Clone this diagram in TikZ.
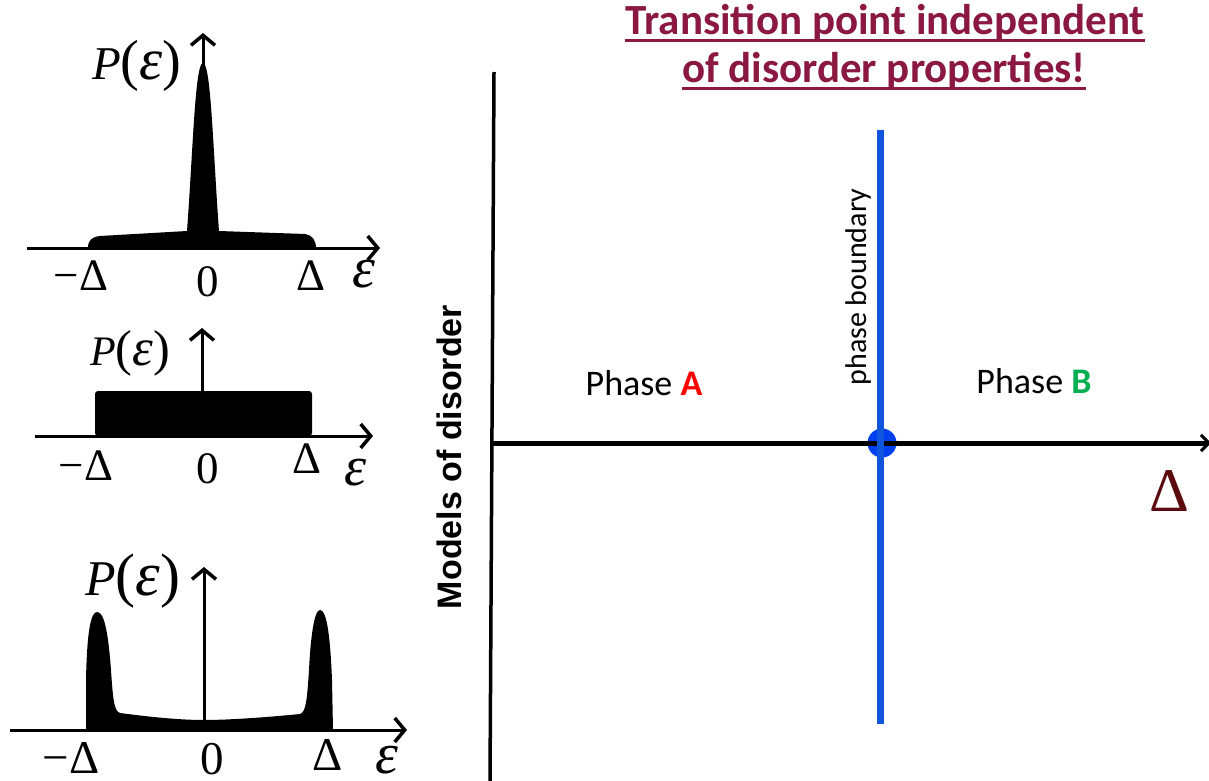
\documentclass[tikz,border=0pt]{standalone}
\usepackage{fontspec}
\setmainfont{Liberation Serif}
\newfontfamily\calib{Carlito}
\newfontfamily\arialf{Liberation Sans}
\usetikzlibrary{arrows.meta}
\definecolor{titlecol}{RGB}{139,24,64}
\definecolor{deltacol}{RGB}{92,10,15}
\definecolor{bline}{RGB}{17,85,221}
\definecolor{bdot}{RGB}{0,64,240}
\definecolor{phA}{RGB}{255,0,0}
\definecolor{phB}{RGB}{0,176,80}
\newcommand{\Peps}[1]{{\fontsize{#1}{#1}\selectfont\textit{P}}{\fontsize{1.2\dimexpr#1\relax}{1pt}\selectfont(}{\fontsize{1.25\dimexpr#1\relax}{1pt}\selectfont\textit{ε}}{\fontsize{1.2\dimexpr#1\relax}{1pt}\selectfont)}}
\newcommand{\epsl}[1]{{\fontsize{#1}{#1}\selectfont\textit{ε}}}
\tikzset{
  chev/.tip={Straight Barb[length=10pt,width=24pt,line width=3.5pt]},
  axisl/.style={line width=3pt,-chev},
  lab/.style={inner sep=0pt,anchor=base,font=\fontsize{45}{50}\selectfont},
  plab/.style={inner sep=0pt,anchor=base west},
  ttl/.style={inner sep=0pt,anchor=base,text=titlecol,font=\calib\bfseries\fontsize{43}{48}\selectfont},
  uline/.style={draw=titlecol,line width=3pt},
  phase/.style={inner sep=0pt,anchor=base,font=\calib\fontsize{36}{40}\selectfont},
}
\begin{document}
\begin{tikzpicture}[x=1pt,y=-1pt]
\fill[white] (0,0) rectangle (1209,781);
\useasboundingbox (0,0) rectangle (1209,781);

% ---------- top distribution ----------
\coordinate (a1s) at (27,248); \coordinate (a1e) at (380,248);
\coordinate (v1s) at (203,248); \coordinate (v1e) at (203,33);
\fill (88,248) .. controls (88,240) and (92,237) .. (100,236) -- (187,231)
  .. controls (193,150) and (195,63) .. (203,63)
  .. controls (211,63) and (213,150) .. (219,231) -- (305,234)
  .. controls (312,235) and (316,240) .. (316,248) -- cycle;
\draw[axisl] (a1s) -- (a1e);
\draw[axisl] (v1s) -- (v1e);
\node[lab] (m1) at (81,290) {−Δ};
\node[lab] (z1) at (208,296) {0};
\node[lab] (d1) at (311,290) {Δ};
\node[lab] (e1) at (364,287) {\epsl{58}};
\node[plab] (p1) at (92,80) {\Peps{47pt}};

% ---------- middle distribution ----------
\coordinate (a2s) at (35,436); \coordinate (a2e) at (373,436);
\coordinate (v2s) at (202,436); \coordinate (v2e) at (202,328);
\fill[rounded corners=3pt] (95,436) rectangle (312,391);
\draw[axisl] (a2s) -- (a2e);
\draw[axisl] (v2s) -- (v2e);
\node[lab] (m2) at (86,480) {−Δ};
\node[lab] (z2) at (208,483) {0};
\node[lab] (d2) at (307,473) {Δ};
\node[lab] (e2) at (356,485) {\epsl{56}};
\node[plab] (p2) at (90,365) {\Peps{42pt}};

% ---------- bottom distribution ----------
\coordinate (a3s) at (10,730); \coordinate (a3e) at (407,730);
\coordinate (v3s) at (204,730); \coordinate (v3e) at (204,567);
\fill (86,730) -- (86,680) .. controls (87,630) and (91,612) .. (97,612)
  .. controls (104,612) and (108,630) .. (111,670)
  .. controls (113,700) and (114,711) .. (120,713)
  .. controls (150,717) and (180,720) .. (204,720)
  .. controls (230,720) and (270,717) .. (300,714)
  .. controls (306,712) and (307,700) .. (309,670)
  .. controls (311,630) and (315,610) .. (320,610)
  .. controls (326,610) and (330,630) .. (332,680) -- (333,730) -- cycle;
\draw[axisl] (a3s) -- (a3e);
\draw[axisl] (v3s) -- (v3e);
\node[lab,font=\fontsize{47}{50}\selectfont] (m3) at (71,773) {−Δ};
\node[lab,font=\fontsize{47}{50}\selectfont] (z3) at (212,774) {0};
\node[lab,font=\fontsize{47}{50}\selectfont] (d3) at (328,770) {Δ};
\node[lab] (e3) at (387,773) {\epsl{58}};
\node[plab] (p3) at (85,595) {\Peps{50pt}};

% ---------- right panel ----------
\coordinate (ya) at (494,72); \coordinate (yb) at (490,781);
\coordinate (xa) at (490,443); \coordinate (xb) at (1211,443);
\coordinate (ba) at (880,130); \coordinate (bb) at (880,724);
\node[fill=bdot,circle,inner sep=0pt,minimum size=29pt] (dot) at (882,443) {};
\draw[line width=3.5pt] (ya) -- (yb);
\draw[line width=5pt,-{Straight Barb[length=8pt,width=16pt,line width=3pt]}] (xa) -- (xb);
\draw[bline,line width=7pt] (ba) -- (bb);

\node[inner sep=0pt,rotate=90,font=\calib\fontsize{30}{32}\selectfont] (pb) at (858,287) {phase boundary};
\node[inner sep=0pt,rotate=90,font=\arialf\bfseries\fontsize{34}{36}\selectfont] (mod) at (449,457) {Models of disorder};
\node[phase] (pa) at (644,395) {Phase \textbf{\textcolor{phA}{A}}};
\node[phase] (pbB) at (1034,393) {Phase \textbf{\textcolor{phB}{B}}};
\node[inner sep=0pt,anchor=base,text=deltacol,font=\fontsize{62}{66}\selectfont] (delta) at (1169,511) {Δ};

% ---------- title ----------
\node[ttl] (t1) at (885,35) {Transition point independent};
\node[ttl] (t2) at (884,83) {of disorder properties!};
\draw[uline] ([yshift=-6pt]t1.base west) -- ([yshift=-6pt]t1.base east);
\draw[uline] ([yshift=-6pt]t2.base west) -- ([yshift=-6pt]t2.base east);
\end{tikzpicture}
\end{document}
